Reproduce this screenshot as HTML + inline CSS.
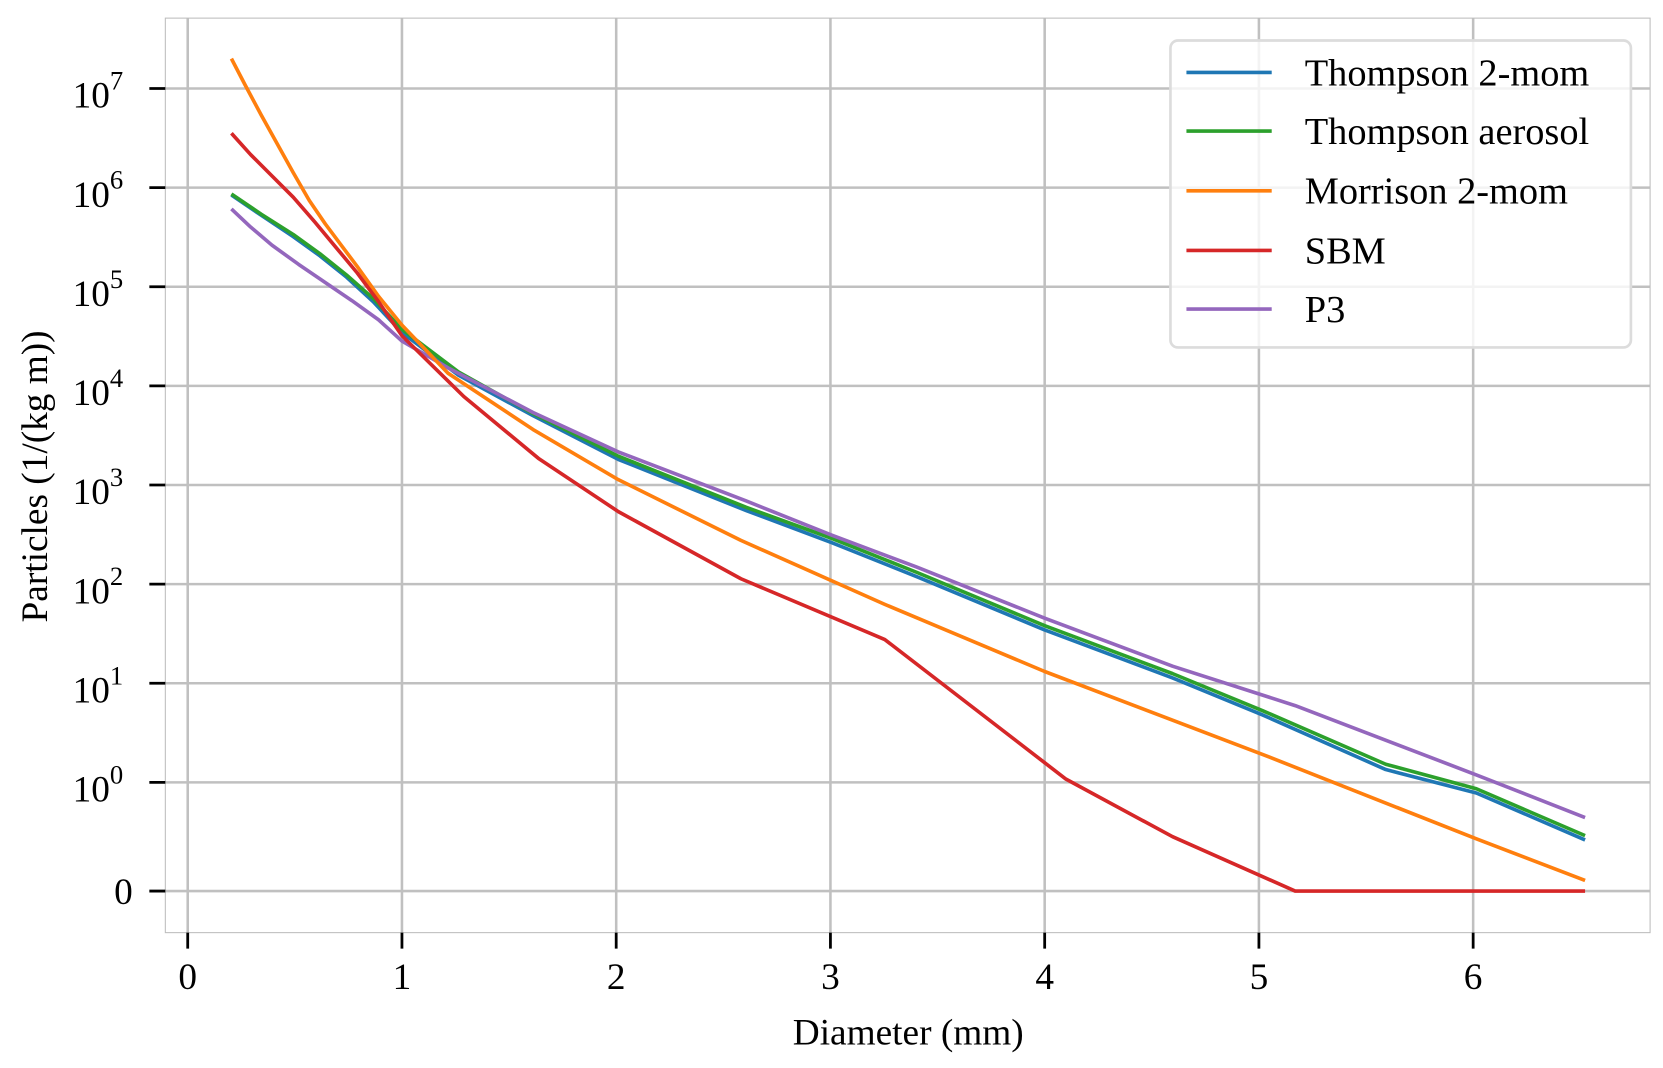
<!DOCTYPE html>
<html><head><meta charset="utf-8"><style>
html,body{margin:0;padding:0;background:#fff}
svg{display:block}
text{font-family:"Liberation Serif",serif;fill:#000}
</style></head><body>
<svg width="1663" height="1068" viewBox="0 0 1560 1002" xmlns="http://www.w3.org/2000/svg">
<rect width="1560" height="1002" fill="#fff"/>
<g stroke="#c0c0c0" stroke-width="2.4">
<line x1="176" y1="17" x2="176" y2="875"/>
<line x1="377" y1="17" x2="377" y2="875"/>
<line x1="578" y1="17" x2="578" y2="875"/>
<line x1="779" y1="17" x2="779" y2="875"/>
<line x1="980" y1="17" x2="980" y2="875"/>
<line x1="1181" y1="17" x2="1181" y2="875"/>
<line x1="1382" y1="17" x2="1382" y2="875"/>
<line x1="155" y1="83" x2="1548" y2="83"/>
<line x1="155" y1="176" x2="1548" y2="176"/>
<line x1="155" y1="269" x2="1548" y2="269"/>
<line x1="155" y1="362" x2="1548" y2="362"/>
<line x1="155" y1="455" x2="1548" y2="455"/>
<line x1="155" y1="548" x2="1548" y2="548"/>
<line x1="155" y1="641" x2="1548" y2="641"/>
<line x1="155" y1="734" x2="1548" y2="734"/>
<line x1="155" y1="836" x2="1548" y2="836"/>
</g>
<rect x="155" y="17" width="1393" height="858" fill="none" stroke="#bdbdbd" stroke-width="1"/>
<g stroke="#000" stroke-width="2.6">
<line x1="176" y1="875" x2="176" y2="890"/><line x1="377" y1="875" x2="377" y2="890"/>
<line x1="578" y1="875" x2="578" y2="890"/><line x1="779" y1="875" x2="779" y2="890"/>
<line x1="980" y1="875" x2="980" y2="890"/><line x1="1181" y1="875" x2="1181" y2="890"/>
<line x1="1382" y1="875" x2="1382" y2="890"/>
<line x1="140" y1="83" x2="155" y2="83"/><line x1="140" y1="176" x2="155" y2="176"/>
<line x1="140" y1="269" x2="155" y2="269"/><line x1="140" y1="362" x2="155" y2="362"/>
<line x1="140" y1="455" x2="155" y2="455"/><line x1="140" y1="548" x2="155" y2="548"/>
<line x1="140" y1="641" x2="155" y2="641"/><line x1="140" y1="734" x2="155" y2="734"/>
<line x1="140" y1="836" x2="155" y2="836"/>
</g>
<g font-size="35" text-anchor="middle">
<text x="176" y="928">0</text><text x="377" y="928">1</text><text x="578" y="928">2</text>
<text x="779" y="928">3</text><text x="980" y="928">4</text><text x="1181" y="928">5</text>
<text x="1382" y="928">6</text>
</g>
<g font-size="35">
<text x="68" y="101">10<tspan font-size="25" dy="-17">7</tspan></text>
<text x="68" y="194">10<tspan font-size="25" dy="-17">6</tspan></text>
<text x="68" y="287">10<tspan font-size="25" dy="-17">5</tspan></text>
<text x="68" y="380">10<tspan font-size="25" dy="-17">4</tspan></text>
<text x="68" y="473">10<tspan font-size="25" dy="-17">3</tspan></text>
<text x="68" y="566">10<tspan font-size="25" dy="-17">2</tspan></text>
<text x="68" y="659">10<tspan font-size="25" dy="-17">1</tspan></text>
<text x="68" y="752">10<tspan font-size="25" dy="-17">0</tspan></text>
<text x="107" y="848">0</text>
</g>
<text x="852" y="980" font-size="35" text-anchor="middle">Diameter (mm)</text>
<text transform="translate(44,447) rotate(-90)" font-size="35" text-anchor="middle">Particles (1/(kg m))</text>
<g fill="none" stroke-width="3.4" stroke-linejoin="round">
<polyline stroke="#1f77b4" points="217,183 245,202 275,222 300,240 325,260 350,283 377,312 430,352 500,390 580,431 700,479 780,509 860,541 980,591 1100,636 1185,671 1300,722 1385,744 1487,788"/>
<polyline stroke="#2ca02c" points="217,182 245,201 275,220 300,238 325,258 350,280 377,309 430,349 500,388 580,428 700,476 780,505 860,537 980,587 1100,632 1185,667 1300,717 1385,740 1487,784"/>
<polyline stroke="#9467bd" points="217,196 235,213 255,230 280,248 305,265 330,282 355,300 377,320 420,345 500,387 580,424 700,470 780,502 860,532 980,580 1100,625 1215,662 1385,727 1487,767"/>
<polyline stroke="#ff7f0e" points="217,55 230,80 245,108 260,135 275,162 290,188 305,210 320,230 335,250 355,278 377,305 420,350 500,403 580,450 695,507 830,567 980,630 1185,708 1385,787 1487,826"/>
<polyline stroke="#d62728" points="217,125 235,145 255,165 275,185 295,208 315,232 335,256 355,283 377,315 435,372 505,430 580,480 695,543 830,600 1000,731 1100,785 1215,836 1487,836"/>
</g>
<rect x="1098" y="38" width="432" height="288" rx="7" fill="#fff" fill-opacity="0.8" stroke="#dcdcdc" stroke-width="2.5"/>
<g stroke-width="3.4">
<line x1="1113" y1="68" x2="1193" y2="68" stroke="#1f77b4"/>
<line x1="1113" y1="123" x2="1193" y2="123" stroke="#2ca02c"/>
<line x1="1113" y1="179" x2="1193" y2="179" stroke="#ff7f0e"/>
<line x1="1113" y1="235" x2="1193" y2="235" stroke="#d62728"/>
<line x1="1113" y1="290" x2="1193" y2="290" stroke="#9467bd"/>
</g>
<g font-size="36">
<text x="1224" y="80">Thompson 2-mom</text>
<text x="1224" y="135">Thompson aerosol</text>
<text x="1224" y="191">Morrison 2-mom</text>
<text x="1224" y="247">SBM</text>
<text x="1224" y="302">P3</text>
</g>
</svg>
</body></html>
